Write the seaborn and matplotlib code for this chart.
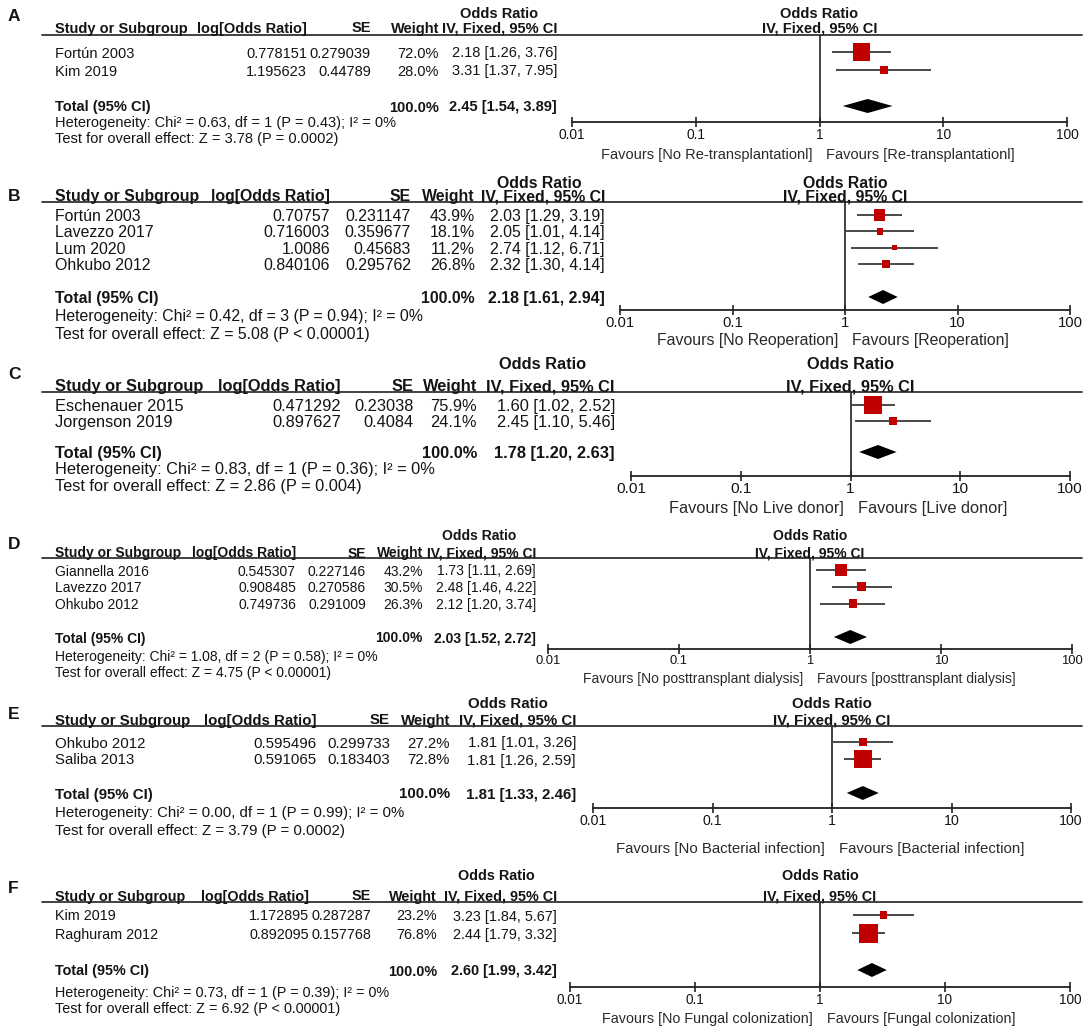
import numpy as np
import pandas as pd
import seaborn as sns
import matplotlib
matplotlib.use('Agg')
import matplotlib.pyplot as plt
from matplotlib.ticker import NullLocator

# ---- data ----
a_study = ['Fortún 2003', 'Kim 2019']
a_logor = [0.778151, 1.195623]
a_se = [0.279039, 0.44789]
a_weight = [72.0, 28.0]
a_or = [2.18, 3.31]
a_lo = [1.26, 1.37]
a_hi = [3.76, 7.95]
a_total = [2.45, 1.54, 3.89]
a_het = 'Heterogeneity: Chi² = 0.63, df = 1 (P = 0.43); I² = 0%'
a_test = 'Test for overall effect: Z = 3.78 (P = 0.0002)'
a_fav = ['Favours [No Re-transplantationl]', 'Favours [Re-transplantationl]']

b_study = ['Fortún 2003', 'Lavezzo 2017', 'Lum 2020', 'Ohkubo 2012']
b_logor = [0.70757, 0.716003, 1.0086, 0.840106]
b_se = [0.231147, 0.359677, 0.45683, 0.295762]
b_weight = [43.9, 18.1, 11.2, 26.8]
b_or = [2.03, 2.05, 2.74, 2.32]
b_lo = [1.29, 1.01, 1.12, 1.30]
b_hi = [3.19, 4.14, 6.71, 4.14]
b_total = [2.18, 1.61, 2.94]
b_het = 'Heterogeneity: Chi² = 0.42, df = 3 (P = 0.94); I² = 0%'
b_test = 'Test for overall effect: Z = 5.08 (P < 0.00001)'
b_fav = ['Favours [No Reoperation]', 'Favours [Reoperation]']

c_study = ['Eschenauer 2015', 'Jorgenson 2019']
c_logor = [0.471292, 0.897627]
c_se = [0.23038, 0.4084]
c_weight = [75.9, 24.1]
c_or = [1.60, 2.45]
c_lo = [1.02, 1.10]
c_hi = [2.52, 5.46]
c_total = [1.78, 1.20, 2.63]
c_het = 'Heterogeneity: Chi² = 0.83, df = 1 (P = 0.36); I² = 0%'
c_test = 'Test for overall effect: Z = 2.86 (P = 0.004)'
c_fav = ['Favours [No Live donor]', 'Favours [Live donor]']

d_study = ['Giannella 2016', 'Lavezzo 2017', 'Ohkubo 2012']
d_logor = [0.545307, 0.908485, 0.749736]
d_se = [0.227146, 0.270586, 0.291009]
d_weight = [43.2, 30.5, 26.3]
d_or = [1.73, 2.48, 2.12]
d_lo = [1.11, 1.46, 1.20]
d_hi = [2.69, 4.22, 3.74]
d_total = [2.03, 1.52, 2.72]
d_het = 'Heterogeneity: Chi² = 1.08, df = 2 (P = 0.58); I² = 0%'
d_test = 'Test for overall effect: Z = 4.75 (P < 0.00001)'
d_fav = ['Favours [No posttransplant dialysis]', 'Favours [posttransplant dialysis]']

e_study = ['Ohkubo 2012', 'Saliba 2013']
e_logor = [0.595496, 0.591065]
e_se = [0.299733, 0.183403]
e_weight = [27.2, 72.8]
e_or = [1.81, 1.81]
e_lo = [1.01, 1.26]
e_hi = [3.26, 2.59]
e_total = [1.81, 1.33, 2.46]
e_het = 'Heterogeneity: Chi² = 0.00, df = 1 (P = 0.99); I² = 0%'
e_test = 'Test for overall effect: Z = 3.79 (P = 0.0002)'
e_fav = ['Favours [No Bacterial infection]', 'Favours [Bacterial infection]']

f_study = ['Kim 2019', 'Raghuram 2012']
f_logor = [1.172895, 0.892095]
f_se = [0.287287, 0.157768]
f_weight = [23.2, 76.8]
f_or = [3.23, 2.44]
f_lo = [1.84, 1.79]
f_hi = [5.67, 3.32]
f_total = [2.60, 1.99, 3.42]
f_het = 'Heterogeneity: Chi² = 0.73, df = 1 (P = 0.39); I² = 0%'
f_test = 'Test for overall effect: Z = 6.92 (P < 0.00001)'
f_fav = ['Favours [No Fungal colonization]', 'Favours [Fungal colonization]']

ticks = [0.01, 0.1, 1, 10, 100]
tick_labels = ['0.01', '0.1', '1', '10', '100']

# ---- layout in pixels (figure is 1084 x 1030) ----
W, H = 1084, 1030
layout = {
    'A': dict(fs=10.5, lab_y=15, or_y=12, head_y=27, line_y=35, first=52, total=106, het=122, test=138,
              study_x=55, log_r=307, se_r=371, w_r=439, ci_r=557, or_c=499,
              f0=572, f1=1067, axis_y=122, fav_y=154),
    'B': dict(fs=11.4, lab_y=195, or_y=182, head_y=195, line_y=202, first=215, total=297, het=315, test=333,
              study_x=55, log_r=330, se_r=411, w_r=475, ci_r=605, or_c=539,
              f0=620, f1=1070, axis_y=310, fav_y=339),
    'C': dict(fs=11.8, lab_y=373, or_y=363, head_y=385, line_y=392, first=405, total=452, het=468, test=485,
              study_x=55, log_r=341, se_r=414, w_r=477, ci_r=615, or_c=543,
              f0=631, f1=1070, axis_y=476, fav_y=507),
    'D': dict(fs=10.0, lab_y=543, or_y=535, head_y=552, line_y=558, first=570, total=637, het=656, test=672,
              study_x=55, log_r=296, se_r=366, w_r=423, ci_r=536, or_c=479,
              f0=548, f1=1072, axis_y=649, fav_y=678),
    'E': dict(fs=10.8, lab_y=713, or_y=703, head_y=719, line_y=726, first=742, total=793, het=811, test=829,
              study_x=55, log_r=316, se_r=390, w_r=450, ci_r=576, or_c=508,
              f0=593, f1=1071, axis_y=808, fav_y=848),
    'F': dict(fs=10.4, lab_y=887, or_y=875, head_y=895, line_y=902, first=915, total=970, het=992, test=1008,
              study_x=55, log_r=309, se_r=371, w_r=437, ci_r=557, or_c=496,
              f0=570, f1=1070, axis_y=987, fav_y=1018),
}

panels = {
    'A': (a_study, a_logor, a_se, a_weight, a_or, a_lo, a_hi, a_total, a_het, a_test, a_fav),
    'B': (b_study, b_logor, b_se, b_weight, b_or, b_lo, b_hi, b_total, b_het, b_test, b_fav),
    'C': (c_study, c_logor, c_se, c_weight, c_or, c_lo, c_hi, c_total, c_het, c_test, c_fav),
    'D': (d_study, d_logor, d_se, d_weight, d_or, d_lo, d_hi, d_total, d_het, d_test, d_fav),
    'E': (e_study, e_logor, e_se, e_weight, e_or, e_lo, e_hi, e_total, e_het, e_test, e_fav),
    'F': (f_study, f_logor, f_se, f_weight, f_or, f_lo, f_hi, f_total, f_het, f_test, f_fav),
}

sns.set_theme(style='white')
plt.rcParams['font.family'] = ['Liberation Sans', 'DejaVu Sans']

TXT = '#141414'
RED = '#c00000'

fig = plt.figure(figsize=(W / 100, H / 100), dpi=100)
bg = fig.add_axes([0, 0, 1, 1])
bg.set_xlim(0, W)
bg.set_ylim(H, 0)
bg.axis('off')


def txt(x, y, s, fs, ha='left', bold=False, color=TXT):
    bg.text(x, y, s, ha=ha, va='center_baseline', fontsize=fs,
            fontweight='bold' if bold else 'normal', color=color)


for key, (study, logor, se, weight, orr, lo, hi, total, het, test, fav) in panels.items():
    L = layout[key]
    fs = L['fs']
    n = len(study)
    pitch = (L['total'] - L['first']) / (n + 1)
    rows_px = [L['first'] + i * pitch for i in range(n)]

    # left-hand table
    txt(8, L['lab_y'], key, 12.5, bold=True)
    txt(L['or_c'], L['or_y'], 'Odds Ratio', fs, ha='center', bold=True)
    txt(L['study_x'], L['head_y'], 'Study or Subgroup', fs, bold=True)
    txt(L['log_r'], L['head_y'], 'log[Odds Ratio]', fs, ha='right', bold=True)
    txt(L['se_r'], L['head_y'], 'SE', fs, ha='right', bold=True)
    txt(L['w_r'], L['head_y'], 'Weight', fs, ha='right', bold=True)
    txt(L['ci_r'], L['head_y'], 'IV, Fixed, 95% CI', fs, ha='right', bold=True)
    bg.plot([42, 1082], [L['line_y'], L['line_y']], color='#333333', lw=1.3)

    for i in range(n):
        y = rows_px[i]
        txt(L['study_x'], y, study[i], fs)
        txt(L['log_r'], y, str(logor[i]), fs, ha='right')
        txt(L['se_r'], y, str(se[i]), fs, ha='right')
        txt(L['w_r'], y, f'{weight[i]:.1f}%', fs, ha='right')
        txt(L['ci_r'], y, f'{orr[i]:.2f} [{lo[i]:.2f}, {hi[i]:.2f}]', fs, ha='right')

    txt(L['study_x'], L['total'], 'Total (95% CI)', fs, bold=True)
    txt(L['w_r'], L['total'], f'{sum(weight):.1f}%', fs, ha='right', bold=True)
    txt(L['ci_r'], L['total'], f'{total[0]:.2f} [{total[1]:.2f}, {total[2]:.2f}]', fs, ha='right', bold=True)
    txt(L['study_x'], L['het'], het, fs)
    txt(L['study_x'], L['test'], test, fs)

    # right-hand forest plot
    cx = (L['f0'] + L['f1']) / 2
    txt(cx, L['or_y'], 'Odds Ratio', fs, ha='center', bold=True)
    txt(cx, L['head_y'], 'IV, Fixed, 95% CI', fs, ha='center', bold=True)
    txt(cx - 7, L['fav_y'], fav[0], fs, ha='right', color='#2a2a2a')
    txt(cx + 7, L['fav_y'], fav[1], fs, ha='left', color='#2a2a2a')

    ax = fig.add_axes([L['f0'] / W, 1 - L['axis_y'] / H,
                       (L['f1'] - L['f0']) / W, (L['axis_y'] - L['line_y']) / H])
    ax.patch.set_alpha(0)
    df = pd.DataFrame({'or': orr, 'lo': lo, 'hi': hi, 'weight': weight, 'row': np.arange(n)})
    ax.hlines(df['row'], df['lo'], df['hi'], color='#3a3a3a', lw=1.3, zorder=2)
    size_map = {w: (0.72 * (3 + 0.2 * w)) ** 2 for w in weight}
    sns.scatterplot(data=df, x='or', y='row', size='weight', sizes=size_map, marker='s',
                    color=RED, linewidth=0, legend=False, ax=ax, zorder=3)
    t_row = n + 1
    h = 7.0 / pitch
    ax.fill([total[1], total[0], total[2], total[0]], [t_row, t_row - h, t_row, t_row + h],
            color='black', lw=0, zorder=3)
    ax.axvline(1, color='#222222', lw=1.2, zorder=1)

    ax.set_xscale('log')
    ax.set_xlim(0.01, 100)
    ax.set_ylim((L['axis_y'] - L['first']) / pitch, (L['line_y'] - L['first']) / pitch)
    ax.set_xticks(ticks, labels=tick_labels)
    ax.xaxis.set_minor_locator(NullLocator())
    ax.set_yticks([])
    ax.set_xlabel('')
    ax.set_ylabel('')
    for s in ['top', 'left', 'right']:
        ax.spines[s].set_visible(False)
    ax.spines['bottom'].set_color('#222222')
    ax.spines['bottom'].set_linewidth(1.3)
    ax.tick_params(axis='x', direction='inout', length=7, width=1.2, pad=0.5,
                   labelsize=fs * 0.94, colors='#222222', labelcolor=TXT, bottom=True)

fig.savefig('out.png', dpi=100, facecolor='white')
